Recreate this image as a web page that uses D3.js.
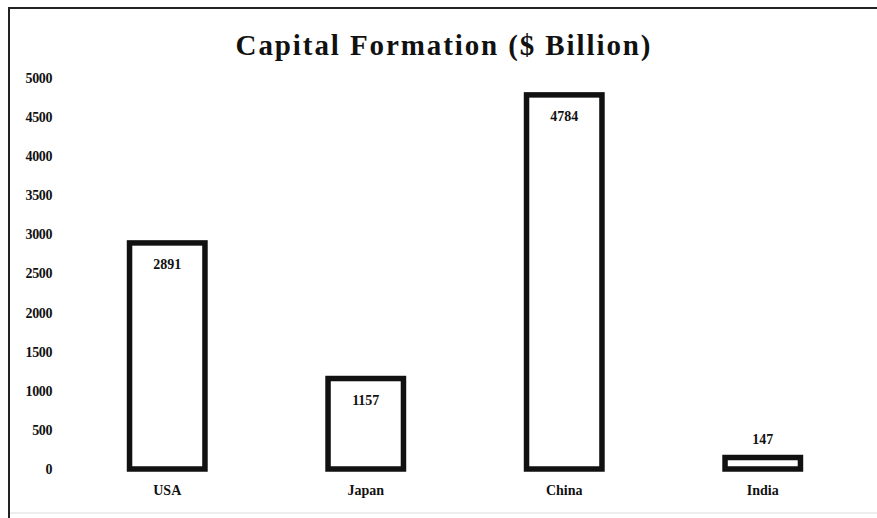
<!DOCTYPE html>
<html>
<head>
<meta charset="utf-8">
<script src="https://cdn.jsdelivr.net/npm/d3@7"></script>
<style>
  body { margin: 0; background: #fff; }
  text { font-family: "Liberation Serif", "Times New Roman", serif; font-weight: bold; fill: #111; }
</style>
</head>
<body>
<div id="chart"></div>
<script>
var width = 877,
    height = 518;

var countries = ['USA', 'Japan', 'China', 'India'];
var capital = [2891, 1157, 4784, 147];
var yTicks = [0, 500, 1000, 1500, 2000, 2500, 3000, 3500, 4000, 4500, 5000];
var title = 'Capital Formation ($ Billion)';

var svg = d3.select('#chart').append('svg')
    .attr('width', width)
    .attr('height', height);

// frame: dark top + left, faint bottom
svg.append('line').attr('x1', 9).attr('x2', width).attr('y1', 8).attr('y2', 8)
    .attr('stroke', '#222').attr('stroke-width', 2);
svg.append('line').attr('x1', 9).attr('x2', 9).attr('y1', 7).attr('y2', height)
    .attr('stroke', '#222').attr('stroke-width', 2);
svg.append('line').attr('x1', 10).attr('x2', width).attr('y1', 513).attr('y2', 513)
    .attr('stroke', '#ddd').attr('stroke-width', 1);

svg.append('text')
    .attr('x', 444).attr('y', 55)
    .attr('text-anchor', 'middle')
    .style('font-size', '29px')
    .style('letter-spacing', '1.9px')
    .text(title);

var x = d3.scaleBand()
    .domain(countries)
    .range([68, 862])
    .paddingInner(0.62)
    .paddingOuter(0.31);

var y = d3.scaleLinear()
    .domain([0, 5000])
    .range([469, 78]);

var yAxis = svg.append('g')
    .attr('transform', 'translate(52,0)')
    .call(d3.axisLeft(y).tickValues(yTicks).tickFormat(d3.format('d')).tickSize(0).tickPadding(0));
yAxis.select('.domain').remove();
yAxis.selectAll('text').style('font-size', '14px').style('letter-spacing', '-0.4px').attr('dy', '0.32em');

var xAxis = svg.append('g')
    .attr('transform', 'translate(0,485)')
    .call(d3.axisBottom(x).tickSize(0).tickPadding(0));
xAxis.select('.domain').remove();
xAxis.selectAll('text').style('font-size', '14px').attr('dy', '0.71em');

svg.selectAll('rect.bar')
    .data(capital)
    .enter().append('rect')
    .attr('class', 'bar')
    .attr('x', function(d, i){ return x(countries[i]); })
    .attr('width', x.bandwidth())
    .attr('y', function(d){ return y(d); })
    .attr('height', function(d){ return y(0) - y(d); })
    .attr('fill', '#fff')
    .attr('stroke', '#111')
    .attr('stroke-width', 5.5);

svg.selectAll('text.val')
    .data(capital)
    .enter().append('text')
    .attr('class', 'val')
    .attr('x', function(d, i){ return x(countries[i]) + x.bandwidth() / 2; })
    .attr('y', function(d){ return y(0) - y(d) > 40 ? y(d) + 26 : y(d) - 14; })
    .attr('text-anchor', 'middle')
    .style('font-size', '14px')
    .text(function(d){ return d; });
</script>
</body>
</html>
